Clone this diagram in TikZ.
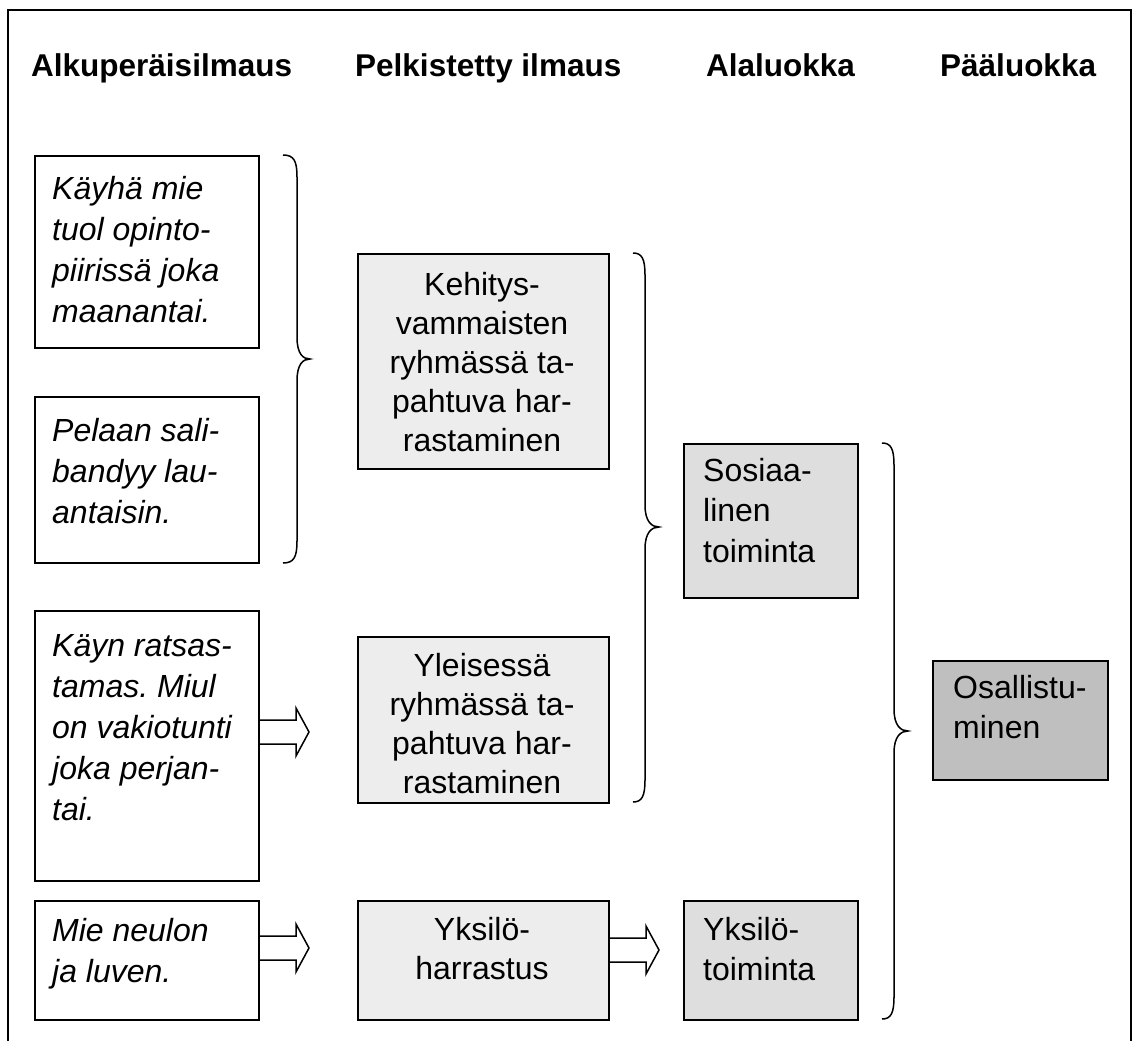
\documentclass[tikz,border=0pt]{standalone}
\usepackage{fontspec}
\setmainfont{Liberation Sans}
\frenchspacing
\newcommand{\mystrut}{\rule{0pt}{24pt}}
\newcommand{\drawbrace}[6]{%
  \draw[bracelinestyle] ({#1},{#4}) .. controls ({#2-3},{#4}) and ({#2},{#4+6}) .. ({#2},{#4+22})
    -- ({#2},{#5-22}) .. controls ({#2},{#5-5}) and ({#3-7},{#5}) .. ({#3},{#5})
    .. controls ({#3-7},{#5}) and ({#2},{#5+5}) .. ({#2},{#5+22})
    -- ({#2},{#6-22}) .. controls ({#2},{#6-6}) and ({#2-3},{#6}) .. ({#1},{#6});}
\begin{document}
\begin{tikzpicture}[x=1pt,y=-1pt,
  bx/.style={draw=black, line width=1.5pt, inner sep=0pt, anchor=north west},
  fillB/.style={fill=black!7},
  fillC/.style={fill=black!13},
  fillD/.style={fill=black!25},
  head/.style={anchor=base west, inner sep=0pt, font=\fontsize{31.5}{38}\selectfont\bfseries},
  txt/.style={anchor=north west, inner sep=0pt, align=left, font=\fontsize{32}{40.5}\selectfont},
  itxt/.style={txt, font=\fontsize{32}{41}\selectfont\itshape},
  ctxt/.style={anchor=north, inner sep=0pt, align=center, font=\fontsize{32}{39}\selectfont},
  bracelinestyle/.style={line width=1.5pt},
  hollow/.style={line width=1.5pt, line join=miter},
  blockarrow/.pic={\draw[hollow] (0,-12) -- (38,-12) -- (38,-24) -- (51,0) -- (38,24) -- (38,12) -- (0,12);}
]
\useasboundingbox (0,0) rectangle (1133,1041);
\draw[line width=1.5pt] (8,1041) -- (8,10) -- (1131,10) -- (1131,1041);

% headers
\node[head] (h1) at (31,77) {Alkuperäisilmaus};
\node[head] (h2) at (355,77) {Pelkistetty ilmaus};
\node[head] (h3) at (706,77) {Alaluokka};
\node[head] (h4) at (940,77) {Pääluokka};

% column A
\node[bx, minimum width=224pt, minimum height=192pt] (a1) at (34,155) {};
\node[bx, minimum width=224pt, minimum height=166pt] (a2) at (34,396) {};
\node[bx, minimum width=224pt, minimum height=270pt] (a3) at (34,610) {};
\node[bx, minimum width=224pt, minimum height=119pt] (a4) at (34,900) {};
\node[itxt] (ta1) at (52,{199-24}) {\mystrut Käyhä mie\\tuol opinto-\\piirissä joka\\maanantai.};
\node[itxt] (ta2) at (52,{441-24}) {\mystrut Pelaan sali-\\bandyy lau-\\antaisin.};
\node[itxt] (ta3) at (52,{656-24}) {\mystrut Käyn ratsas-\\tamas. Miul\\on vakiotunti\\joka perjan-\\tai.};
\node[itxt] (ta4) at (52,{941-24}) {\mystrut Mie neulon\\ja luven.};

% column B
\node[bx, fillB, minimum width=251pt, minimum height=215pt] (b1) at (357,253) {};
\node[bx, fillB, minimum width=251pt, minimum height=166pt] (b2) at (357,636) {};
\node[bx, fillB, minimum width=251pt, minimum height=119pt] (b3) at (357,900) {};
\node[ctxt] (tb1) at (482,{295-24}) {\mystrut Kehitys-\\vammaisten\\ryhmässä ta-\\pahtuva har-\\rastaminen};
\node[ctxt] (tb2) at (482,{676-24}) {\mystrut Yleisessä\\ryhmässä ta-\\pahtuva har-\\rastaminen};
\node[ctxt] (tb3) at (482,{940-24}) {\mystrut Yksilö-\\harrastus};

% column C
\node[bx, fillC, minimum width=174pt, minimum height=154pt] (c1) at (683,443) {};
\node[bx, fillC, minimum width=174pt, minimum height=119pt] (c2) at (683,900) {};
\node[txt] (tc1) at (703,{481-24}) {\mystrut Sosiaa-\\linen\\toiminta};
\node[txt] (tc2) at (703,{940-24}) {\mystrut Yksilö-\\toiminta};

% column D
\node[bx, fillD, minimum width=175pt, minimum height=119pt] (d1) at (932,660) {};
\node[txt] (td1) at (953,{698-24}) {\mystrut Osallistu-\\minen};

% braces
\drawbrace{283}{297}{310}{155}{359}{563}
\drawbrace{633}{645}{659}{253}{527}{802}
\drawbrace{882}{894}{908}{443}{731}{1019}

% block arrows
\pic at (258,732) {blockarrow};
\pic at (258,948) {blockarrow};
\pic at (608,950) {blockarrow};
\end{tikzpicture}
\end{document}
